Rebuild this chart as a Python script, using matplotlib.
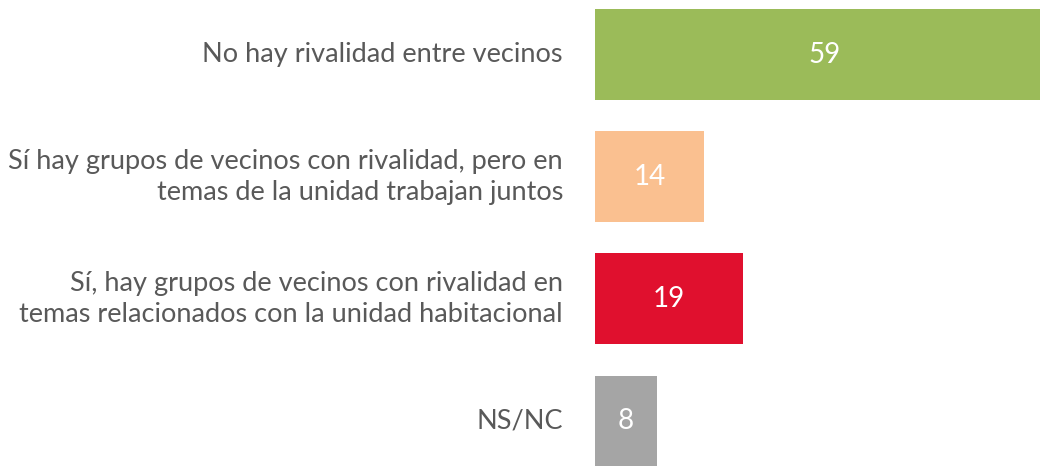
import matplotlib
matplotlib.use("Agg")
import matplotlib.pyplot as plt

categories = [
    "No hay rivalidad entre vecinos",
    "Sí hay grupos de vecinos con rivalidad, pero en\ntemas de la unidad trabajan juntos",
    "Sí, hay grupos de vecinos con rivalidad en\ntemas relacionados con la unidad habitacional",
    "NS/NC",
]
values = [59, 14, 19, 8]
colors = ["#9BBB59", "#FAC090", "#E0102E", "#A5A5A5"]

plt.rcParams['font.family'] = ['Lato', 'DejaVu Sans']

fig = plt.figure(figsize=(10.4, 4.66), dpi=100)
# axes spans from the bar baseline to the right edge; longest bar runs past it
ax = fig.add_axes([595 / 1040, 0, 1 - 595 / 1040, 1])

pos = list(range(len(values)))
ax.barh(pos, values, height=0.745, color=colors, clip_on=True)
ax.set_xlim(0, 445 / 7.77)
ax.set_ylim(3.367, -0.446)

for p, v in zip(pos, values):
    xv = v / 2 if v < 50 else 29.5
    ax.text(xv, p, str(v), ha="center", va="center", color="white", fontsize=20)

for p, c in zip(pos, categories):
    ax.text(-32 / 7.77, p, c, ha="right", va="center", color="#595959",
            fontsize=19.5, linespacing=1.3)

ax.set_axis_off()
fig.savefig("out.png", dpi=100)
